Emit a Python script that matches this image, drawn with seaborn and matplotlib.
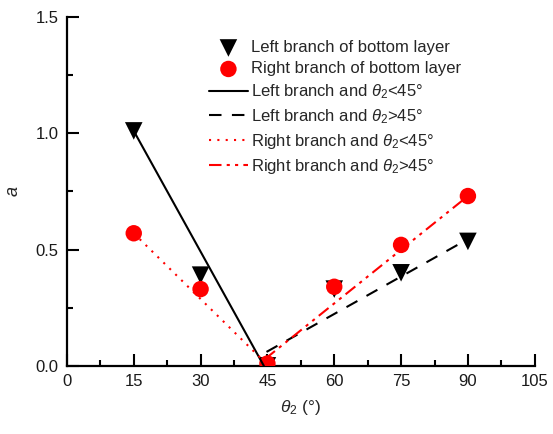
import matplotlib
matplotlib.use("Agg")
import matplotlib.pyplot as plt
import seaborn as sns
import pandas as pd
from matplotlib.ticker import MultipleLocator

# data
theta = [15, 30, 45, 60, 75, 90]
left_a = [1.01, 0.39, 0.0, 0.33, 0.40, 0.535]
right_a = [0.57, 0.33, 0.01, 0.34, 0.52, 0.73]

fit_left_lo_x = [15, 44.2]
fit_left_lo_y = [1.01, 0.0]
fit_left_hi_x = [44.8, 90]
fit_left_hi_y = [0.06, 0.545]
fit_right_lo_x = [15, 44.2]
fit_right_lo_y = [0.57, 0.02]
fit_right_hi_x = [44.5, 90]
fit_right_hi_y = [0.03, 0.73]

labels = ["Left branch of bottom layer", "Right branch of bottom layer",
          r"Left branch and $\theta_2$<45°", r"Left branch and $\theta_2$>45°",
          r"Right branch and $\theta_2$<45°", r"Right branch and $\theta_2$>45°"]

sns.set_style("ticks")
plt.rcParams['font.family'] = ['Liberation Sans', 'DejaVu Sans']
plt.rcParams['mathtext.fontset'] = 'custom'
plt.rcParams['mathtext.rm'] = 'Liberation Sans'
plt.rcParams['mathtext.it'] = 'Liberation Sans:italic'

fig = plt.figure(figsize=(5.53, 4.34), dpi=100)
ax = fig.add_axes([0.121, 0.157, 0.846, 0.804])

df = pd.DataFrame({"theta": theta, "left": left_a, "right": right_a})

sns.scatterplot(data=df, x="theta", y="left", marker="v", s=160, color="black",
                edgecolor="none", linewidth=0, ax=ax, label=labels[0], zorder=3)
sns.scatterplot(data=df, x="theta", y="right", marker="o", s=140, color="red",
                edgecolor="none", linewidth=0, ax=ax, label=labels[1], zorder=3)

sns.lineplot(x=fit_left_lo_x, y=fit_left_lo_y, color="black", lw=1.5, ax=ax,
             label=labels[2], zorder=4)
sns.lineplot(x=fit_left_hi_x, y=fit_left_hi_y, color="black", lw=1.5, ax=ax,
             label=labels[3], linestyle=(0, (6, 5)), zorder=4)
sns.lineplot(x=fit_right_lo_x, y=fit_right_lo_y, color="red", lw=1.5, ax=ax,
             label=labels[4], linestyle=(0, (1, 3)), zorder=4)
sns.lineplot(x=fit_right_hi_x, y=fit_right_hi_y, color="red", lw=1.5, ax=ax,
             label=labels[5], linestyle=(0, (6, 2.5, 1.5, 2.5, 1.5, 2.5)), zorder=4)

ax.set_xlim(0, 105)
ax.set_ylim(0, 1.5)
ax.xaxis.set_major_locator(MultipleLocator(15))
ax.xaxis.set_minor_locator(MultipleLocator(7.5))
ax.yaxis.set_major_locator(MultipleLocator(0.5))
ax.yaxis.set_minor_locator(MultipleLocator(0.25))
ax.yaxis.set_major_formatter(matplotlib.ticker.FormatStrFormatter('%.1f'))
ax.tick_params(which='both', direction='in', width=1.5, color='black',
               labelsize=12, labelcolor='#1a1a1a')
ax.tick_params(which='major', length=8.5, pad=6)
ax.tick_params(which='minor', length=4.5)
for s in ['top', 'right']:
    ax.spines[s].set_visible(False)
for s in ['left', 'bottom']:
    ax.spines[s].set_linewidth(1.6)
    ax.spines[s].set_color('black')

ax.set_xlabel(r"$\theta_2$ (°)", fontsize=12.5, labelpad=6)
ax.set_ylabel(r"$a$", fontsize=13, labelpad=10)

leg = ax.legend(loc='upper left', bbox_to_anchor=(0.29, 0.952), frameon=False,
                fontsize=12, handlelength=2.3, handletextpad=0.2,
                labelspacing=0.36, borderaxespad=0)

fig.savefig("out.png", dpi=100)
